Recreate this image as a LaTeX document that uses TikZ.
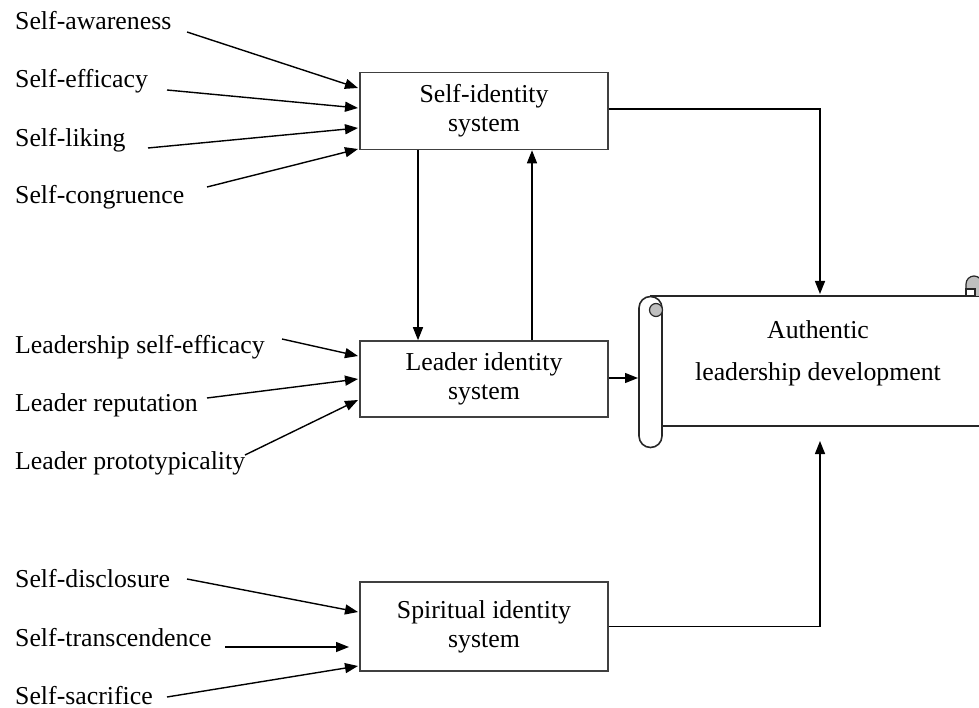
\documentclass[tikz,border=0pt]{standalone}
\usepackage{fontspec}
\setmainfont{Liberation Serif}
\usetikzlibrary{arrows.meta}
\begin{document}
\begin{tikzpicture}[x=1pt,y=-1pt,
  lbl/.style={anchor=base west,inner sep=0pt,font=\fontsize{25.8}{29}\selectfont},
  sysbox/.style={draw=black!75,line width=1.6pt,minimum width=248pt,align=center,inner sep=0pt,font=\fontsize{25.8}{29}\selectfont},
  arr/.style={line width=1.4pt,-{Triangle[length=13pt,width=10pt]}},
  scr/.style={draw=black!85,line width=1.6pt}]
\useasboundingbox (0,0) rectangle (979,708);

% left labels
\node[lbl] (sa) at (15,30) {Self-awareness};
\node[lbl] (se) at (15,88) {Self-efficacy};
\node[lbl] (sl) at (15,147) {Self-liking};
\node[lbl] (sc) at (15,204) {Self-congruence};
\node[lbl] (lse) at (15,353) {Leadership self-efficacy};
\node[lbl] (lr) at (15,411) {Leader reputation};
\node[lbl] (lp) at (15,469) {Leader prototypicality};
\node[lbl] (sd) at (15,587) {Self-disclosure};
\node[lbl] (st) at (15,646) {Self-transcendence};
\node[lbl] (ss) at (15,704) {Self-sacrifice};

% boxes
\node[sysbox,minimum height=77pt] (sis) at (484,111) {Self-identity\\system};
\node[sysbox,minimum height=76pt] (lis) at (484,379) {Leader identity\\system};
\node[sysbox,minimum height=89pt] (spi) at (484,626.5) {Spiritual identity\\system};

% scroll
\draw[scr] (650,296) -- (990,296);
\draw[scr] (662,426) -- (990,426);
\draw[scr] (662,308) -- (662,436) arc[start angle=0,end angle=180,radius=11.5] -- (639,308) arc[start angle=180,end angle=360,radius=11.5];
\draw[scr,fill=black!25,line width=1.2pt] (656,310) circle[radius=6.5];
\draw[scr,fill=black!25,line width=1.2pt] (966,296) -- (966,284) arc[start angle=180,end angle=360,radius=8] -- (982,296);
\draw[scr,line width=1.2pt,fill=white] (966,289) rectangle (975,296);
\node[align=center,inner sep=0pt,font=\fontsize{25.8}{42}\selectfont] (ald) at (818,353) {Authentic\\leadership development};

% coordinates
\coordinate (a1) at (187,32);  \coordinate (b1) at (358,88);
\coordinate (a2) at (167,90);  \coordinate (b2) at (358,108);
\coordinate (a3) at (148,148); \coordinate (b3) at (358,128);
\coordinate (a4) at (207,187); \coordinate (b4) at (358,149);
\coordinate (a5) at (282,339); \coordinate (b5) at (358,356);
\coordinate (a6) at (207,398); \coordinate (b6) at (358,379);
\coordinate (a7) at (245,455); \coordinate (b7) at (358,400);
\coordinate (a8) at (187,579); \coordinate (b8) at (358,612);
\coordinate (a9) at (225,647); \coordinate (b9) at (349,647);
\coordinate (a10) at (167,697); \coordinate (b10) at (358,666);
\coordinate (top) at (820,294);
\coordinate (bot) at (820,441);
\coordinate (lft) at (638,378);

\draw[arr] (a1) -- (b1);
\draw[arr] (a2) -- (b2);
\draw[arr] (a3) -- (b3);
\draw[arr] (a4) -- (b4);
\draw[arr] (a5) -- (b5);
\draw[arr] (a6) -- (b6);
\draw[arr] (a7) -- (b7);
\draw[arr] (a8) -- (b8);
\draw[arr] (a9) -- (b9);
\draw[arr] (a10) -- (b10);

% between systems
\draw[arr] (sis.south -| 418,0) -- (lis.north -| 418,0);
\draw[arr] (lis.north -| 532,0) -- (sis.south -| 532,0);

% to scroll
\draw[arr] (sis.east |- 0,109) -| (top);
\draw[arr] (lis.east |- lft) -- (lft);
\draw[arr] (spi.east) -| (bot);
\end{tikzpicture}
\end{document}
